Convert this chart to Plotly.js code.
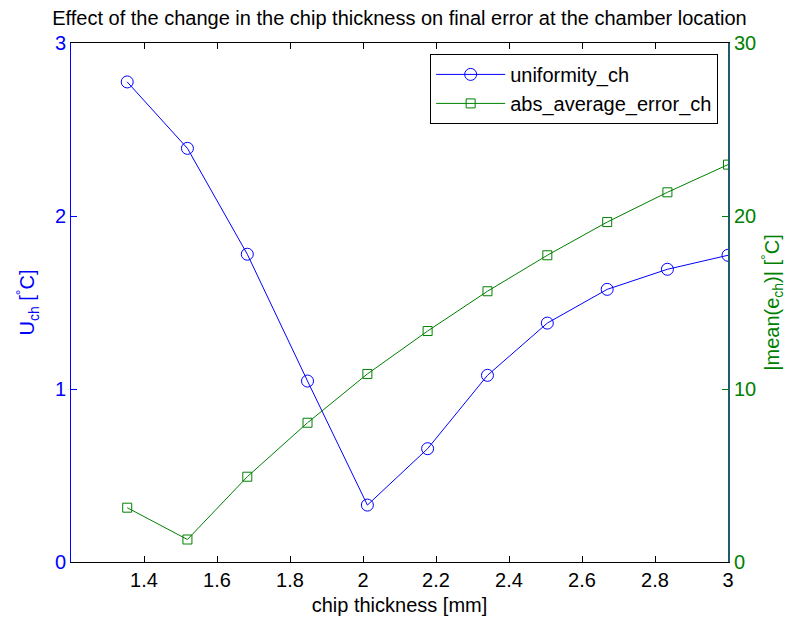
<!DOCTYPE html>
<html>
<head>
<meta charset="utf-8">
<script src="https://cdn.plot.ly/plotly-3.0.1.min.js"></script>
<style>
  html, body { margin: 0; padding: 0; background: #ffffff; }
  #chart { width: 804px; height: 623px; }
</style>
</head>
<body>
<div id="chart"></div>
<script>
// Chip thickness values [mm]
const chipThickness = [1.354, 1.519, 1.683, 1.848, 2.012, 2.177, 2.341, 2.505, 2.669, 2.834, 3.0];
// Temperature uniformity in the chamber [°C]
const uniformityCh = [2.775, 2.391, 1.779, 1.046, 0.329, 0.655, 1.079, 1.381, 1.576, 1.692, 1.773];
// Absolute average error in the chamber [°C]
const absAverageErrorCh = [3.14, 1.30, 4.93, 8.05, 10.87, 13.35, 15.65, 17.73, 19.65, 21.37, 22.97];

const xTicks = [1.4, 1.6, 1.8, 2, 2.2, 2.4, 2.6, 2.8, 3];
const yLeftTicks = [0, 1, 2, 3];
const yRightTicks = [0, 10, 20, 30];

const BLUE = 'rgb(0,0,255)';
const GREEN = 'rgb(0,128,0)';
const FONT = 'Liberation Sans, Arial, Helvetica, sans-serif';
const FS = 20;

const traces = [
  {
    x: chipThickness, y: uniformityCh,
    name: 'uniformity_ch',
    type: 'scatter', mode: 'lines+markers',
    line: { color: BLUE, width: 1 },
    marker: { symbol: 'circle-open', size: 12, color: BLUE, line: { width: 1, color: BLUE } },
    yaxis: 'y'
  },
  {
    x: chipThickness, y: absAverageErrorCh,
    name: 'abs_average_error_ch',
    type: 'scatter', mode: 'lines+markers',
    line: { color: GREEN, width: 1 },
    marker: { symbol: 'square-open', size: 9, color: GREEN, line: { width: 1, color: GREEN } },
    yaxis: 'y2'
  }
];

const layout = {
  width: 804, height: 623,
  margin: { l: 71, r: 76, t: 43, b: 61, pad: 0 },
  paper_bgcolor: '#ffffff', plot_bgcolor: '#ffffff',
  font: { family: FONT, size: FS, color: '#000' },
  showlegend: true,
  title: {
    text: 'Effect of the change in the chip thickness on final error at the chamber location',
    font: { family: FONT, size: FS, color: '#000' },
    x: 0.5, xref: 'paper', xanchor: 'center',
    y: 0.971, yref: 'container', yanchor: 'middle'
  },
  xaxis: {
    range: [1.2, 3],
    tickvals: xTicks, ticktext: xTicks.map(String),
    ticks: 'inside', ticklen: 6, tickwidth: 1, tickcolor: '#000',
    showline: true, linecolor: '#000', linewidth: 1, mirror: 'ticks',
    showgrid: false, zeroline: false,
    tickfont: { family: FONT, size: FS, color: '#000' },
    title: { text: 'chip thickness [mm]', font: { family: FONT, size: FS, color: '#000' }, standoff: 7 }
  },
  yaxis: {
    range: [0, 3],
    tickvals: yLeftTicks, ticktext: yLeftTicks.map(String),
    ticks: 'inside', ticklen: 6, tickwidth: 1, tickcolor: BLUE,
    showline: true, linecolor: BLUE, linewidth: 1,
    showgrid: false, zeroline: false,
    tickfont: { family: FONT, size: FS, color: BLUE },
    title: { text: 'U<sub>ch</sub> [<sup>°</sup>C]', font: { family: FONT, size: FS, color: BLUE }, standoff: 14 }
  },
  yaxis2: {
    range: [0, 30], overlaying: 'y', side: 'right',
    tickvals: yRightTicks, ticktext: yRightTicks.map(String),
    ticks: 'inside', ticklen: 6, tickwidth: 1, tickcolor: GREEN,
    showline: true, linecolor: '#1e5b6b', linewidth: 2,
    showgrid: false, zeroline: false,
    tickfont: { family: FONT, size: FS, color: GREEN },
    title: { text: '|mean(e<sub>ch</sub>)| [<sup>°</sup>C]', font: { family: FONT, size: FS, color: GREEN }, standoff: 10 }
  },
  legend: {
    x: 0.985, xanchor: 'right', y: 0.979, yanchor: 'top',
    bgcolor: '#ffffff', bordercolor: '#000', borderwidth: 1,
    font: { family: FONT, size: FS, color: '#000' },
    tracegroupgap: 0, itemwidth: 69
  }
};

Plotly.newPlot('chart', traces, layout, { displayModeBar: false, staticPlot: true });
</script>
</body>
</html>
